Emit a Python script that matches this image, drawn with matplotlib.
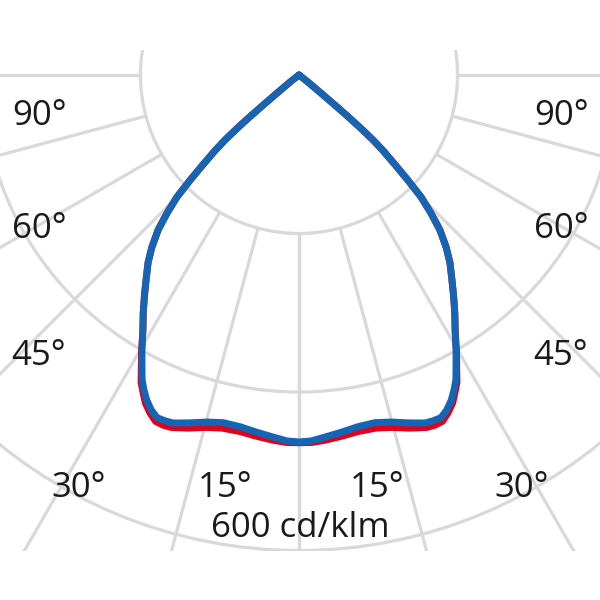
import numpy as np
import matplotlib.pyplot as plt
from matplotlib.patches import Rectangle, Circle

plt.rcParams.update({
    "font.family": ["Open Sans", "DejaVu Sans"],
    "font.size": 25,
})

# luminous intensity distribution, angle from nadir [deg] -> cd/klm
gamma = [0, 1.9, 4.1, 6.7, 9.5, 12.3, 14.85, 17.4, 19.9, 21.2, 22.5, 23.8,
         25.1, 26.2, 27.2, 28.0, 29.7, 31.5, 33.2, 35, 36.7, 38.8, 40.5, 42.3,
         43.7, 45, 46, 47, 48, 48.7, 49.2, 49.6, 50, 50.5, 52, 60]
I_c0 = [463, 462, 458, 454, 450, 449, 453, 460, 467, 468, 468, 462,
        453, 443, 433, 422, 400, 377, 359, 340, 323, 304, 286, 264,
        241, 218, 191, 165, 143, 125, 105, 85, 60, 36, 13, 0]
I_c90 = [464, 464, 462, 459, 456, 456, 460, 467, 473, 474, 473, 466,
         457, 446, 436, 424, 401, 377, 359, 340, 323, 304, 286, 264,
         241, 218, 191, 165, 143, 125, 105, 85, 60, 36, 13, 0]

grid_rings = [200, 400, 600]
grid_angles = [0, 15, 30, 45, 60, 75, 90]

# label texts with positions in pixels (x, baseline y from top)
labels = ["90°", "60°", "45°", "30°", "15°", "15°", "30°", "45°", "60°", "90°"]
label_px = [(40, 125), (39, 238), (39, 365), (79, 497), (225, 497),
            (377, 497), (522, 497), (561, 365), (561, 238), (562, 125)]
scale_label = "600 cd/klm"

px_per_cd = 0.7925  # pixel size of one cd/klm
cx, cy = 299, 75    # pole position in pixels

fig = plt.figure(figsize=(6, 6), dpi=100)
ax = fig.add_axes([0, 0, 1, 1])
ax.set_xlim(-cx / px_per_cd, (600 - cx) / px_per_cd)
ax.set_ylim(-(600 - cy) / px_per_cd, cy / px_per_cd)
ax.axis("off")

grid_col = "#d9d9d9"
clip = Rectangle((-1000, -600), 2000, 631.5, transform=ax.transData)

for r in grid_rings:
    c = Circle((0, 0), r, fill=False, color=grid_col, lw=2.3)
    ax.add_patch(c)
    c.set_clip_path(clip)

for a in grid_angles:
    t = np.radians(a)
    for s in [-1, 1]:
        ln, = ax.plot([s*200*np.sin(t), s*1200*np.sin(t)],
                      [-200*np.cos(t), -1200*np.cos(t)],
                      color=grid_col, lw=2.3, solid_capstyle="butt")
        ln.set_clip_path(clip)

def curve(g, I):
    g = np.radians(np.array(g))
    I = np.array(I, dtype=float)
    # right half from top down to nadir, then left half back up
    x = np.concatenate([(I*np.sin(g))[::-1], -(I*np.sin(g))[1:]])
    y = np.concatenate([(-I*np.cos(g))[::-1], (-I*np.cos(g))[1:]])
    return x, y

x, y = curve(gamma, I_c90)
ax.plot(x, y, color="#e2001a", lw=5.0, solid_joinstyle="round", solid_capstyle="round")
x, y = curve(gamma, I_c0)
ax.plot(x, y, color="#1565b5", lw=5.0, solid_joinstyle="round", solid_capstyle="round")

for txt, (px, py) in zip(labels, label_px):
    fig.text(px / 600, 1 - py / 600, txt, ha="center", va="baseline", color="#1a1a1a")
fig.text(300 / 600, 1 - 537 / 600, scale_label, ha="center", va="baseline", color="#1a1a1a")

fig.savefig("out.png", dpi=100, facecolor="white")
